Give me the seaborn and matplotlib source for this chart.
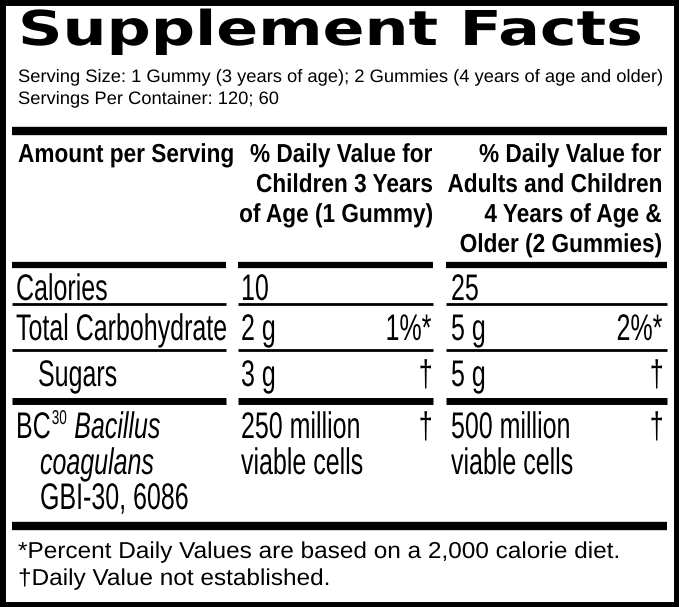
import matplotlib.pyplot as plt
import seaborn as sns
from matplotlib.textpath import TextPath
from matplotlib.font_manager import FontProperties
from matplotlib.patches import PathPatch
from matplotlib.transforms import Affine2D

sns.set_style("white")
plt.rcParams['font.family'] = ['Liberation Sans', 'DejaVu Sans']

title = "Supplement Facts"
serving_lines = ["Serving Size: 1 Gummy (3 years of age); 2 Gummies (4 years of age and older)",
                 "Servings Per Container: 120; 60"]
header_col1 = "Amount per Serving"
header_col2 = ["% Daily Value for", "Children 3 Years", "of Age (1 Gummy)"]
header_col3 = ["% Daily Value for", "Adults and Children", "4 Years of Age &", "Older (2 Gummies)"]
row_names = ["Calories", "Total Carbohydrate", "Sugars"]
row_indent = [0, 0, 22]
child_amounts = ["10", "2 g", "3 g"]
child_dv = ["", "1%*", "†"]
adult_amounts = ["25", "5 g", "5 g"]
adult_dv = ["", "2%*", "†"]
footnotes = ["*Percent Daily Values are based on a 2,000 calorie diet.",
             "†Daily Value not established."]

fig = plt.figure(figsize=(6.79, 6.07), dpi=100)
ax = fig.add_axes([0, 0, 1, 1])
ax.set_xlim(0, 679)
ax.set_ylim(607, 0)
ax.axis('off')


def make_path(s, size, family='Liberation Sans', weight='normal', style='normal'):
    return TextPath((0, 0), s, size=size,
                    prop=FontProperties(family=family, weight=weight, style=style))


def stretch(s, size, width, **kw):
    return width / make_path(s, size, **kw).get_extents().x1


def txt(x, y, s, size, sx, ha='left', **kw):
    p = make_path(s, size, **kw)
    w = p.get_extents().x1 * sx
    x0 = x - w if ha == 'right' else x
    t = Affine2D().scale(sx, -1).translate(x0, y)
    ax.add_patch(PathPatch(t.transform_path(p), fc='black', lw=0))
    return x0 + w


# outer border
ax.add_patch(plt.Rectangle((2, 2), 675, 603, fill=False, lw=5, ec='black'))

sx_t = stretch(title, 48, 622, family='DejaVu Sans', weight='heavy')
txt(18, 45, title, 48, sx_t, family='DejaVu Sans', weight='heavy')

sx_s = stretch(serving_lines[0], 18, 644)
for i, s in enumerate(serving_lines):
    txt(18, 82 + i * 22, s, 18, sx_s)

ax.plot([12, 667], [131, 131], color='black', lw=6, solid_capstyle='butt')

sx_h = stretch(header_col2[0], 26, 182, weight='bold')
txt(18, 162, header_col1, 26, sx_h, weight='bold')
for i, s in enumerate(header_col2):
    txt(432, 162 + i * 30, s, 26, sx_h, ha='right', weight='bold')
for i, s in enumerate(header_col3):
    txt(661, 162 + i * 30, s, 26, sx_h, ha='right', weight='bold')

cols = [(12, 226), (238, 433), (446, 667)]


def hline(y, lw):
    for x0, x1 in cols:
        ax.plot([x0, x1], [y, y], color='black', lw=lw, solid_capstyle='butt')


hline(265, 4.5)
hline(304, 2)
hline(350, 2)
hline(401, 5)

sx_b = stretch(row_names[1], 37, 210)
row_y = [300, 340, 386]
for y, n, ind, ca, cd, aa, ad in zip(row_y, row_names, row_indent, child_amounts,
                                      child_dv, adult_amounts, adult_dv):
    txt(16 + ind, y, n, 37, sx_b)
    txt(241, y, ca, 37, sx_b)
    if cd:
        txt(431, y, cd, 37, sx_b, ha='right')
    txt(451, y, aa, 37, sx_b)
    if ad:
        txt(662, y, ad, 37, sx_b, ha='right')

# probiotic row
xe = txt(16, 438, "BC", 37, sx_b)
xe = txt(xe + 2, 424, "30", 20, sx_b)
txt(xe + 8, 438, "Bacillus", 37, sx_b, style='italic')
txt(40, 474, "coagulans", 37, sx_b, style='italic')
txt(40, 509, "GBI-30, 6086", 37, sx_b)
txt(241, 438, "250 million", 37, sx_b)
txt(241, 474, "viable cells", 37, sx_b)
txt(431, 438, "†", 37, sx_b, ha='right')
txt(451, 438, "500 million", 37, sx_b)
txt(451, 474, "viable cells", 37, sx_b)
txt(662, 438, "†", 37, sx_b, ha='right')

ax.plot([12, 667], [526, 526], color='black', lw=6, solid_capstyle='butt')
sx_f = stretch(footnotes[0], 23, 600)
for i, s in enumerate(footnotes):
    txt(18, 558 + i * 27, s, 23, sx_f)

fig.savefig("out.png", dpi=100)
